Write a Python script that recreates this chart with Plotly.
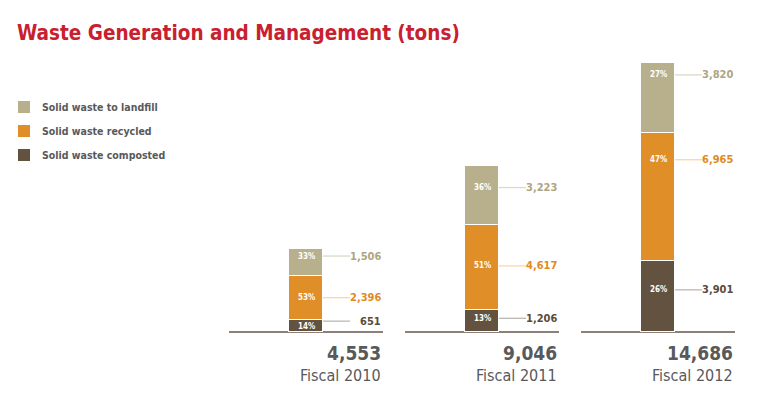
import plotly.graph_objects as go

# ---- data ----
categories = ["Fiscal 2010", "Fiscal 2011", "Fiscal 2012"]
series_names = ["Solid waste composted", "Solid waste recycled", "Solid waste to landfill"]
composted = [651, 1206, 3901]
recycled = [2396, 4617, 6965]
landfill = [1506, 3223, 3820]
totals = [4553, 9046, 14686]
pct_composted = [14, 13, 26]
pct_recycled = [53, 51, 47]
pct_landfill = [33, 36, 27]

# ---- style ----
colors = ["#63523F", "#E08E27", "#B8B08C"]
label_colors = ["#5A4A3A", "#E08A22", "#ADA582"]
line_colors = ["#BDB8B2", "#F6D7AE", "#DCD8C8"]
# where the callout sits inside each segment (fraction measured from segment top)
callout_frac = [
    [0.09, 0.38, 0.41],   # composted
    [0.49, 0.48, 0.21],   # recycled
    [0.27, 0.36, 0.17],   # landfill
]
pct_frac = [
    [0.5, 0.38, 0.41],
    [0.49, 0.48, 0.21],
    [0.27, 0.36, 0.17],
]
NARROW = "Liberation Sans Narrow, DejaVu Sans Condensed, Roboto Condensed, Arial Narrow, sans-serif"
GREY = "#58595B"

PX = 176.0            # pixels per category step
BAR_W = 34 / PX
fig = go.Figure()
series_vals = [composted, recycled, landfill]
series_pcts = [pct_composted, pct_recycled, pct_landfill]
for name, vals, col in zip(series_names, series_vals, colors):
    fig.add_trace(go.Bar(x=categories, y=vals, name=name, width=BAR_W,
                         marker=dict(color=col, line=dict(color="white", width=1)),
                         hoverinfo="skip", showlegend=False))

shapes = []
annotations = []
for i, cat in enumerate(categories):
    base = 0
    for s, vals in enumerate(series_vals):
        v = vals[i]
        top = base + v
        ly = top - callout_frac[s][i] * v
        py = top - pct_frac[s][i] * v
        shapes.append(dict(type="line", xref="x", yref="y",
                           x0=i + 17 / PX, x1=i + 44 / PX, y0=ly, y1=ly,
                           line=dict(color=line_colors[s], width=1.3)))
        annotations.append(dict(x=i + 77 / PX, y=ly, xref="x", yref="y",
                                text=f"{v:,}", showarrow=False, xanchor="right", yanchor="middle",
                                font=dict(family=NARROW, size=11, color=label_colors[s], weight="bold")))
        annotations.append(dict(x=i, y=py, xref="x", yref="y",
                                text=f"{series_pcts[s][i]}%", showarrow=False,
                                xanchor="center", yanchor="middle",
                                font=dict(family=NARROW, size=8, color="white", weight="bold")))
        base = top
    # baseline
    shapes.append(dict(type="line", xref="x", yref="y", x0=i - 77 / PX, x1=i + 77 / PX,
                       y0=0, y1=0, line=dict(color="#8C8078", width=2), layer="below"))
    annotations.append(dict(x=i + 77 / PX, y=0, xref="x", yref="y", text=f"{totals[i]:,}",
                            showarrow=False, xanchor="right", yanchor="top", yshift=-8,
                            font=dict(family=NARROW, size=19, color=GREY, weight="bold")))
    annotations.append(dict(x=i + 77 / PX, y=0, xref="x", yref="y", text=cat,
                            showarrow=False, xanchor="right", yanchor="top", yshift=-32,
                            font=dict(family=NARROW, size=16, color=GREY)))

# legend (top to bottom: landfill, recycled, composted)
W, H = 762, 400
for k, s in enumerate([2, 1, 0]):
    cy = 107 + 24 * k
    shapes.append(dict(type="rect", xref="paper", yref="paper",
                       x0=18 / W, x1=30 / W, y0=1 - (cy - 6) / H, y1=1 - (cy + 6) / H,
                       fillcolor=colors[s], line=dict(width=0)))
    annotations.append(dict(x=40 / W, y=1 - cy / H, xref="paper", yref="paper",
                            text=series_names[s], showarrow=False, xanchor="left", yanchor="middle",
                            font=dict(family=NARROW, size=10.5, color=GREY, weight="bold")))

# title
annotations.append(dict(x=15 / W, y=1 - 33 / H, xref="paper", yref="paper",
                        text="Waste Generation and Management (tons)", showarrow=False,
                        xanchor="left", yanchor="middle",
                        font=dict(family=NARROW, size=20.5, color="#C9202F", weight="bold")))

px_per_ton = 269 / 14686
fig.update_layout(
    width=W, height=H, barmode="stack",
    margin=dict(l=0, r=0, t=0, b=0),
    paper_bgcolor="white", plot_bgcolor="white",
    xaxis=dict(range=[-306 / PX, 2 + (762 - 658) / PX], visible=False, fixedrange=True),
    yaxis=dict(range=[-(400 - 332) / px_per_ton, 332 / px_per_ton], visible=False, fixedrange=True),
    shapes=shapes, annotations=annotations, showlegend=False,
    bargap=0,
)
fig.write_html("out.html", config={"displayModeBar": False},
               post_script="document.body.style.margin='0';document.body.style.overflow='hidden';")
